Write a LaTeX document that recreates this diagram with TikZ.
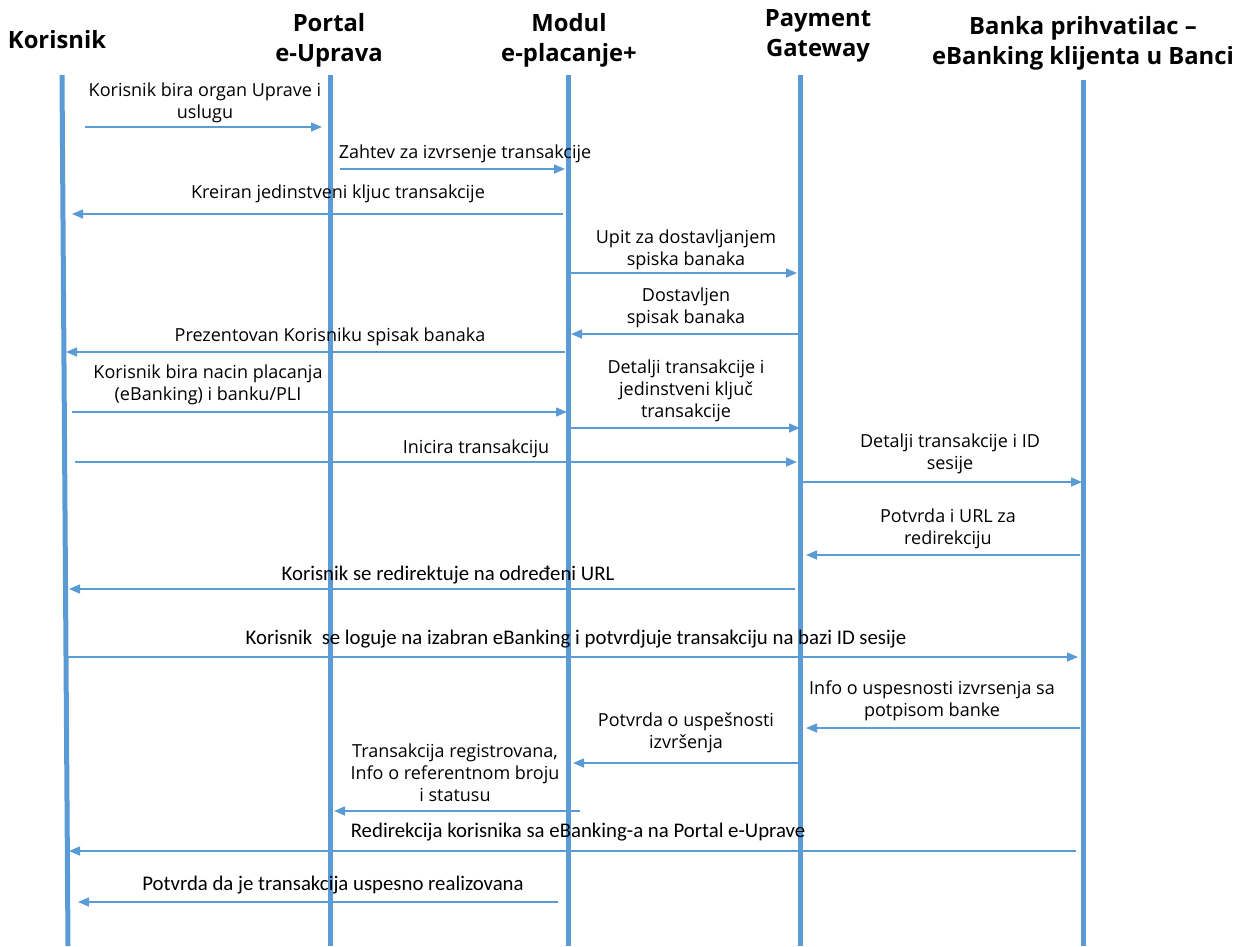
\documentclass[tikz,border=0pt]{standalone}
\usepackage{fontspec}
\setmainfont{Open Sans}
\newfontfamily\calfont{Carlito}
\usetikzlibrary{arrows.meta}
\definecolor{lineblue}{HTML}{5B9BD5}

\begin{document}
\begin{tikzpicture}[x=1pt,y=-1pt,>={Triangle[length=11pt,width=9pt]},
  actor/.style={font=\fontsize{23.8}{30}\selectfont\bfseries,align=center,inner sep=0},
  lifeline/.style={lineblue,line width=5pt},
  msg/.style={->,lineblue,line width=1.5pt},
  msgtext/.style={font=\fontsize{18}{22}\selectfont,align=center,inner sep=0},
  msgnarrow/.style={font=\calfont\fontsize{20.8}{21.5}\selectfont,align=center,inner sep=0}]
    \useasboundingbox (0,0) rectangle (1237,946);

    % actors
    \node[actor](kor) at (57,40){Korisnik};
    \node[actor](portal) at (329,40){Portal\\e-Uprava};
    \node[actor](modul) at (569,40){Modul\\e-placanje+};
    \node[actor](pg) at (818,36){Payment\\Gateway};
    \node[actor](banka) at (1083,43){Banka prihvatilac --\\eBanking klijenta u Banci};

    % lifelines
    \coordinate (korT) at (62,75);    \coordinate (korB) at (68,946);
    \coordinate (portalT) at (330,75); \coordinate (portalB) at (330,946);
    \coordinate (modulT) at (568,75); \coordinate (modulB) at (568,946);
    \coordinate (pgT) at (800,75);    \coordinate (pgB) at (800,946);
    \coordinate (bankaT) at (1083,80); \coordinate (bankaB) at (1083,946);
    \foreach \l in {kor,portal,modul,pg,banka}
      \draw[lifeline] (\l T) -- (\l B);

    % messages
    \foreach \y/\xa/\xb [count=\i] in {127/85/322, 169/340/565, 214/563/72,
        273/570/797, 334/798/571, 352/565/66, 412/72/567, 428/570/800,
        462/75/797, 482/803/1082, 555/1080/806, 589/795/69, 657/65/1078,
        728/1080/806, 763/798/573, 811/580/334, 851/1076/69, 902/558/78}
    {
      \coordinate (s\i) at (\xa,\y);
      \coordinate (e\i) at (\xb,\y);
      \draw[msg] (s\i) -- (e\i);
    }

    % message labels
    \node[msgtext](t1) at (205,103){Korisnik bira organ Uprave i\\uslugu};
    \node[msgtext](t2) at (465,154){Zahtev za izvrsenje transakcije};
    \node[msgtext](t3) at (338,194){Kreiran jedinstveni kljuc transakcije};
    \node[msgtext](t4) at (686,250){Upit za dostavljanjem\\spiska banaka};
    \node[msgtext](t5) at (686,308){Dostavljen\\spisak banaka};
    \node[msgtext](t6) at (330,337){Prezentovan Korisniku spisak banaka};
    \node[msgtext](t7) at (208,385){Korisnik bira nacin placanja\\(eBanking) i banku/PLI};
    \node[msgtext](t8) at (686,391){Detalji transakcije i\\jedinstveni ključ\\transakcije};
    \node[msgtext](t9) at (476,449){Inicira transakciju};
    \node[msgtext](t10) at (950,454){Detalji transakcije i ID\\sesije};
    \node[msgtext](t11) at (948,529){Potvrda i URL za\\redirekciju};
    \node[msgnarrow](t12) at (448,575){Korisnik se redirektuje na određeni URL};
    \node[msgnarrow](t13) at (576,639){Korisnik\ \ se loguje na izabran eBanking i potvrdjuje transakciju na bazi ID sesije};
    \node[msgtext](t14) at (932,701){Info o uspesnosti izvrsenja sa\\potpisom banke};
    \node[msgtext](t15) at (686,733){Potvrda o uspešnosti\\izvršenja};
    \node[msgtext](t16) at (455,773){Transakcija registrovana,\\Info o referentnom broju\\i statusu};
    \node[msgnarrow](t17) at (578,832){Redirekcija korisnika sa eBanking-a na Portal e-Uprave};
    \node[msgnarrow](t18) at (333,885){Potvrda da je transakcija uspesno realizovana};

\end{tikzpicture}
\end{document}
